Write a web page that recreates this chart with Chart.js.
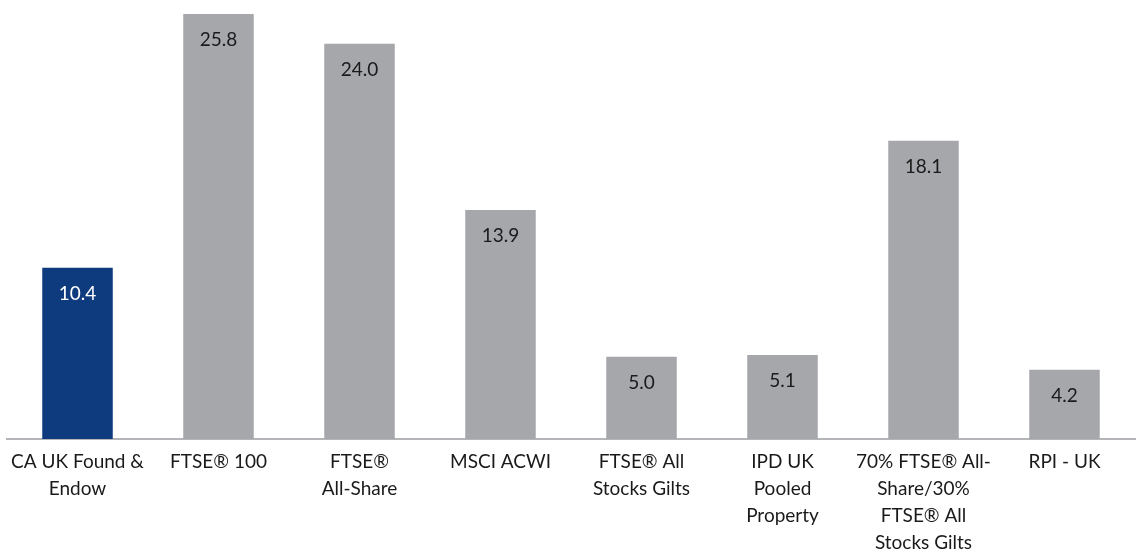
<!DOCTYPE html>
<html lang="en">
<head>
    <meta charset="UTF-8">
    <title>Returns</title>
    <script src="https://cdn.jsdelivr.net/npm/chart.js"></script>
    <style>
        body { margin: 0; background: #fff; }
        #wrap { width: 1139px; height: 552px; }
    </style>
</head>
<body>
    <div id="wrap"><canvas id="chart" width="1139" height="552"></canvas></div>
<script>
const categories = [
    ["CA UK Found &", "Endow"],
    ["FTSE\u00AE 100"],
    ["FTSE\u00AE", "All-Share"],
    ["MSCI ACWI"],
    ["FTSE\u00AE All", "Stocks Gilts"],
    ["IPD UK", "Pooled", "Property"],
    ["70% FTSE\u00AE All-", "Share/30%", "FTSE\u00AE All", "Stocks Gilts"],
    ["RPI - UK"]
];
const values = [10.4, 25.8, 24.0, 13.9, 5.0, 5.1, 18.1, 4.2];
const barColors = ["#0e3a7e", "#a6a7ab", "#a6a7ab", "#a6a7ab", "#a6a7ab", "#a6a7ab", "#a6a7ab", "#a6a7ab"];
const labelColors = ["#ffffff", "#1a1a1a", "#1a1a1a", "#1a1a1a", "#1a1a1a", "#1a1a1a", "#1a1a1a", "#1a1a1a"];

const fontFamily = "Lato, 'Open Sans', sans-serif";

// value labels drawn inside the top of each bar
const barLabels = {
    id: 'barLabels',
    afterDatasetsDraw(chart) {
        const ctx = chart.ctx;
        const meta = chart.getDatasetMeta(0);
        ctx.save();
        ctx.font = "19px " + fontFamily;
        ctx.textAlign = "center";
        ctx.textBaseline = "middle";
        meta.data.forEach((bar, i) => {
            ctx.fillStyle = labelColors[i];
            ctx.fillText(values[i].toFixed(1), bar.x, bar.y + 26);
        });
        ctx.restore();
    }
};

new Chart(document.getElementById("chart"), {
    type: 'bar',
    data: {
        labels: categories,
        datasets: [{
            data: values,
            backgroundColor: barColors,
            borderWidth: 0,
            barPercentage: 0.5,
            categoryPercentage: 1.0
        }]
    },
    options: {
        responsive: false,
        animation: false,
        layout: { padding: { top: 14, left: 7, right: 4, bottom: 0 } },
        scales: {
            x: {
                grid: { display: false, drawTicks: false },
                border: { display: true, color: "#b4b5b8", width: 2 },
                ticks: {
                    color: "#1a1a1a",
                    font: { family: fontFamily, size: 19, lineHeight: 1.42 },
                    padding: 9,
                    maxRotation: 0,
                    autoSkip: false
                },
                afterFit(scale) { scale.height = 113; }
            },
            y: {
                display: false,
                min: 0,
                max: 25.8
            }
        },
        plugins: {
            legend: { display: false },
            tooltip: { enabled: false }
        }
    },
    plugins: [barLabels]
});
</script>
</body>
</html>
